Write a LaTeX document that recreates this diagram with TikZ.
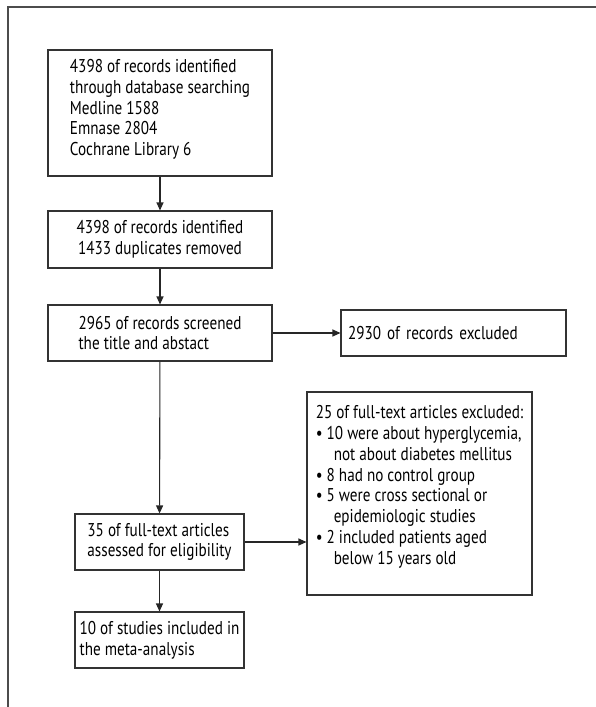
\documentclass[tikz,border=0pt]{standalone}
\usepackage{fontspec}
\setmainfont{PT Sans}[FakeStretch=0.82]
\usetikzlibrary{arrows.meta}
\begin{document}
\begin{tikzpicture}[x=1bp,y=-1bp,
  every node/.style={font=\fontsize{18.5bp}{20.8bp}\selectfont},
  box/.style={draw=black!80, line width=1.1bp, inner sep=0pt},
  conn/.style={draw=black!85, line width=1.1bp, -{Triangle[length=8bp,width=7bp]}},
  frame/.style={draw=black!70, line width=1.4bp}]
\useasboundingbox (0,0) rectangle (596,707);
\draw[frame] (8,707) -- (8,7) -- (596,7);
\node[box, minimum width=224bp, minimum height=126bp, align=left] (b1) at (160,113)
  {4398 of records identified\\through database searching\\Medline 1588\\Emnase 2804\\Cochrane Library 6\\[-9.8bp]\mbox{}};
\node[box, minimum width=224bp, minimum height=57bp, align=center] (b2) at (160,239.5)
  {4398 of records identified\\1433 duplicates removed};
\node[box, minimum width=224bp, minimum height=56bp, align=left] (b3) at (160,333)
  {2965 of records screened\\the title and abstact};
\node[box, minimum width=225bp, minimum height=46bp, text width=211bp, inner xsep=7bp, align=left] (b4) at (453.5,333)
  {2930 of records excluded};
\node[box, minimum width=169bp, minimum height=56bp, align=left] (b5) at (159.5,542)
  {35 of full-text articles\\assessed for eligibility};
\node[box, minimum width=169bp, minimum height=56bp, align=left] (b6) at (159.5,640)
  {10 of studies included in\\the meta-analysis};
\node[box, minimum width=225bp, minimum height=203bp, align=left] (b7) at (419.5,493.5)
  {25 of full-text articles excluded:\\
  • 10 were about hyperglycemia,\\
  \hspace*{18bp}not about diabetes mellitus\\
  • 8 had no control group\\
  • 5 were cross sectional or\\
  \hspace*{18bp}epidemiologic studies\\
  • 2 included patients aged\\
  \hspace*{18bp}below 15 years old\\[-3.8bp]\mbox{}};
\draw[conn] (b1) -- (b2);
\draw[conn] (b2) -- (b3);
\draw[conn] (b3) -- (b4);
\draw[conn] (b3) -- (b5);
\draw[conn] (b5) -- (b6);
\draw[conn] (b5.east) -- (b5.east -| b7.west);
\end{tikzpicture}
\end{document}
